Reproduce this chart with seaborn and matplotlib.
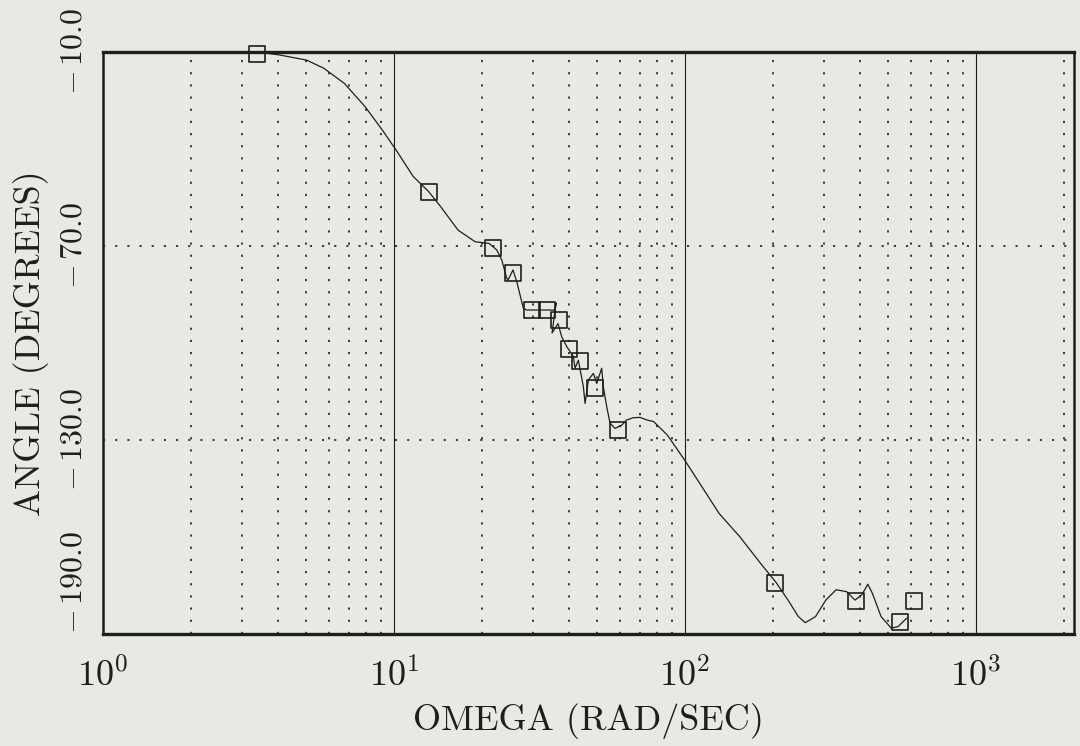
"""
Bode phase plot: ANGLE (DEGREES) vs OMEGA (RAD/SEC), log frequency axis.
"""
import matplotlib
matplotlib.use("Agg")
import matplotlib.pyplot as plt
import matplotlib.ticker as mticker
import seaborn as sns

# continuous phase response
omega_curve = [3.38, 3.52, 4.03, 5.00, 5.73, 6.75, 7.95, 9.11, 10.16, 11.64,
               13.16, 14.48, 16.60, 19.01, 21.21, 22.54, 23.45, 24.40, 24.65, 25.64,
               26.47, 27.83, 28.58, 35.75, 36.04, 34.91, 36.6, 37.70, 39.22, 41.33,
               41.88, 42.99, 44.73, 45.34, 46.54, 48.41, 49.73, 51.72, 52.38, 53.81,
               55.24, 57.47, 60.60, 63.05, 66.42, 70.04, 73.85, 78.00, 87.01, 99.7,
               114.2, 130.9, 154.2, 181.6, 205.3, 225.9, 245.1, 258.9, 280.9, 304.7,
               330.6, 358.9, 383.9, 405.7, 424.5, 440.3, 471.7, 511.2, 539.5, 578.0]
angle_curve = [-10.3, -10.2, -10.9, -12.5, -15.0, -19.7, -26.9, -34.1, -40.3, -48.5,
               -53.2, -57.9, -65.1, -68.7, -69.2, -71.2, -74.3, -80.0, -80.5, -77.4,
               -81.4, -89.3, -89.8, -89.8, -87.6, -96.9, -94.0, -98.1, -101.1, -104.2,
               -107.8, -105.3, -113.5, -118.7, -111.4, -109.4, -112.5, -107.8, -113.5, -119.7,
               -124.8, -126.4, -125.4, -123.8, -123.1, -123.0, -123.8, -124.3, -128.5, -136.2,
               -144.4, -152.7, -159.9, -168.1, -174.0, -179.5, -184.6, -186.5, -184.6, -179.5,
               -176.3, -176.9, -179.5, -177.8, -174.6, -177.4, -184.6, -188.2, -187.7, -185.1]

# sampled points shown as open squares
omega_pts = [3.37, 13.2, 21.9, 25.7, 29.7, 33.6, 36.9, 39.9, 43.6, 49.1, 58.7,
             204.0, 387.0, 548.0, 612.0]
angle_pts = [-10.6, -53.2, -70.6, -78.4, -89.8, -89.8, -92.9, -101.9, -105.6, -113.9,
             -126.9, -174.1, -179.8, -186.2, -179.8]

y_ticks = [-10.0, -70.0, -130.0, -190.0]
y_tick_labels = [r"$-\,10.0$", r"$-\,70.0$", r"$-\,130.0$", r"$-\,190.0$"]

BG = "#e9e9e3"
INK = "#1e1e1e"

sns.set_style("white", {"axes.facecolor": BG, "figure.facecolor": BG})
plt.rcParams["font.family"] = ["cmr10", "DejaVu Serif"]
plt.rcParams["mathtext.fontset"] = "cm"
plt.rcParams["axes.unicode_minus"] = False
plt.rcParams["axes.formatter.use_mathtext"] = True

fig = plt.figure(figsize=(10.8, 7.46), dpi=100)
ax = fig.add_axes([0.0954, 0.1501, 0.899, 0.7802])

sns.lineplot(x=omega_curve, y=angle_curve, sort=False, estimator=None,
             color=INK, linewidth=0.9, ax=ax)
sns.scatterplot(x=omega_pts, y=angle_pts, marker="s", s=135, linewidth=1.2,
                edgecolor=INK, ax=ax, clip_on=False, zorder=5)
ax.collections[-1].set_facecolor("none")

ax.set_xscale("log")
ax.set_xlim(1, 2170)
ax.set_ylim(-190, -10)

ax.xaxis.set_major_locator(mticker.LogLocator(base=10, numticks=10))
ax.xaxis.set_minor_locator(mticker.LogLocator(base=10, subs=range(2, 10), numticks=20))
ax.xaxis.set_major_formatter(mticker.LogFormatterMathtext())
ax.xaxis.set_minor_formatter(mticker.NullFormatter())

ax.set_yticks(y_ticks)
ax.set_yticklabels(y_tick_labels, rotation=90, va="center")

# grid: solid decades, dotted minors and horizontal levels
ax.grid(which="major", axis="x", color=INK, linestyle="-", linewidth=0.8)
ax.grid(which="minor", axis="x", color=INK, linestyle=(0, (1.3, 6)), linewidth=1.2)
ax.grid(which="major", axis="y", color=INK, linestyle=(0, (1.3, 6)), linewidth=1.2)
ax.set_axisbelow(True)

ax.tick_params(axis="x", which="both", direction="out", length=10, width=0.9,
               color=INK, labelsize=26, pad=7, labelcolor=INK)
ax.tick_params(axis="y", which="major", direction="out", length=11, width=1.2,
               color=INK, labelsize=23, pad=0, labelcolor=INK)

# bottom label sits above its tick so it clears the 10^0 label
ax.get_yticklabels()[-1].set_verticalalignment("bottom")

for side in ["top", "bottom"]:
    ax.spines[side].set_linewidth(2.4)
for side in ["left", "right"]:
    ax.spines[side].set_linewidth(1.8)
for sp in ax.spines.values():
    sp.set_color(INK)

ax.set_xlabel("OMEGA (RAD/SEC)", fontsize=26, color=INK, labelpad=7)
ax.set_ylabel("ANGLE (DEGREES)", fontsize=26, color=INK, labelpad=8)

fig.savefig("out.png", dpi=100, facecolor=BG)
